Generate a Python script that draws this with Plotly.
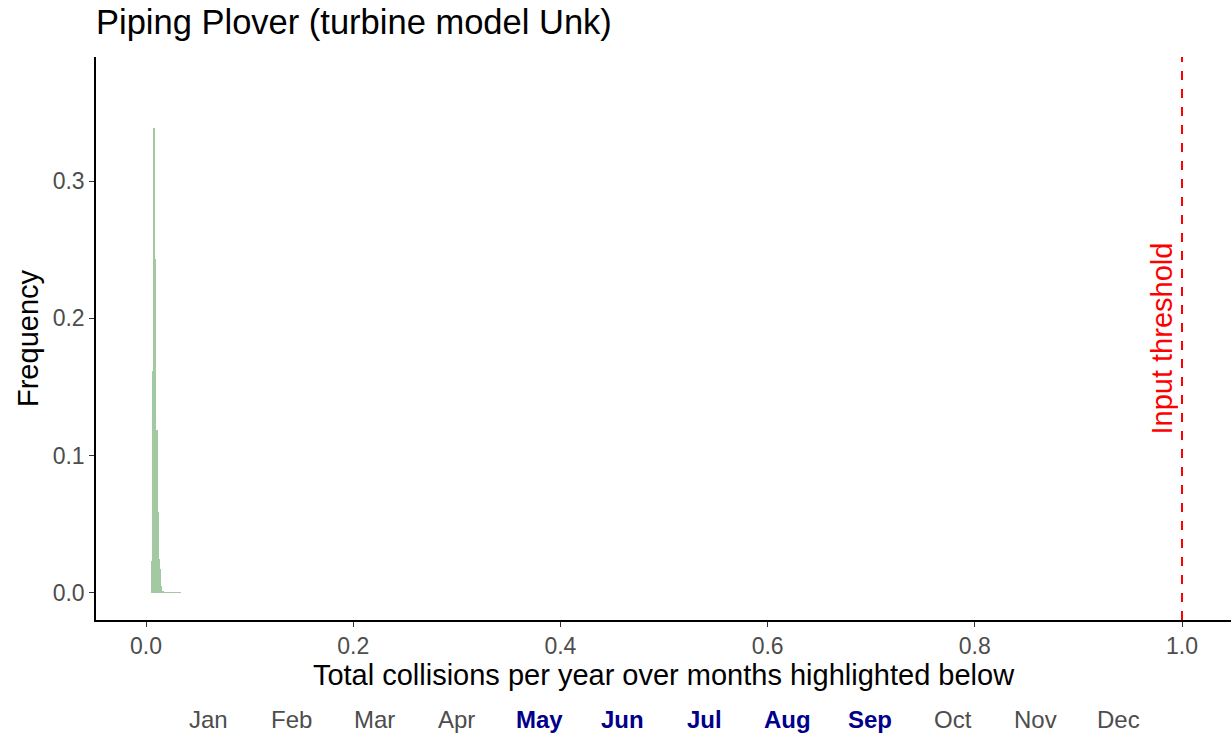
import plotly.graph_objects as go

# Histogram data (relative frequency per bin)
bin_width = 0.00097
bin_centers = [0.0060 + i * 0.00097 for i in range(29)]
frequency = [0.023, 0.162, 0.339, 0.243, 0.0, 0.119, 0.059, 0.025, 0.0175, 0.005,
             0.0008, 0.0017, 0.0006, 0.0004, 0.0003, 0.0003, 0.0002, 0.0002, 0.0003,
             0.0006, 0.0003, 0.0002, 0.0002, 0.0002, 0.0002, 0.0002, 0.0002, 0.0002, 0.0006]
threshold = 1.0

months = ["Jan", "Feb", "Mar", "Apr", "May", "Jun", "Jul", "Aug", "Sep", "Oct", "Nov", "Dec"]
highlighted = [False, False, False, False, True, True, True, True, True, False, False, False]

x_ticks = [0.0, 0.2, 0.4, 0.6, 0.8, 1.0]
y_ticks = [0.0, 0.1, 0.2, 0.3]

FONT = "Liberation Sans"

fig = go.Figure()
fig.add_trace(go.Bar(
    x=bin_centers, y=frequency, width=bin_width,
    marker=dict(color="rgb(163,201,163)", line=dict(width=0)),
    showlegend=False, hoverinfo="x+y"))

fig.add_shape(type="line", x0=threshold, x1=threshold, xref="x", yref="paper", y0=0, y1=1,
              line=dict(color="red", width=2, dash="dash"))
fig.add_annotation(x=threshold, xref="x", xanchor="right", xshift=-3, y=0.5, yref="paper",
                   text="Input threshold", textangle=-90, showarrow=False,
                   font=dict(color="red", size=29, family=FONT))

step = 82.7 / 1135
for i, (m, h) in enumerate(zip(months, highlighted)):
    fig.add_annotation(
        x=0.5 + (i - 5.5) * step, xref="paper", xanchor="center",
        y=-0.176, yref="paper", yanchor="middle", showarrow=False,
        text=f"<b>{m}</b>" if h else m,
        font=dict(size=24, family=FONT, color="#00008B" if h else "#4d4d4d"))

fig.update_layout(
    width=1231, height=738,
    margin=dict(l=96, r=0, t=57, b=118),
    plot_bgcolor="white", paper_bgcolor="white",
    bargap=0,
    font=dict(family=FONT),
    title=dict(text="Piping Plover (turbine model Unk)", x=96 / 1231, xanchor="left",
               xref="container", y=1 - 22 / 738, yref="container", yanchor="middle",
               font=dict(size=34.5, color="black")),
    xaxis=dict(range=[-0.0483, 1.0473], tickvals=x_ticks, ticktext=[f"{v:.1f}" for v in x_ticks],
               showgrid=False, zeroline=False, showline=True, linecolor="black", linewidth=1.5,
               ticks="outside", ticklen=5, tickcolor="#333333", tickwidth=1.2,
               tickfont=dict(size=23, color="#4d4d4d"),
               title=dict(text="Total collisions per year over months highlighted below",
                          font=dict(size=29, color="black"), standoff=4)),
    yaxis=dict(range=[-0.0197, 0.3904], tickvals=y_ticks, ticktext=[f"{v:.1f}" for v in y_ticks],
               showgrid=False, zeroline=False, showline=True, linecolor="black", linewidth=1.5,
               ticks="outside", ticklen=5, tickcolor="#333333", tickwidth=1.2,
               tickfont=dict(size=23, color="#4d4d4d"),
               title=dict(text="Frequency", font=dict(size=29, color="black"), standoff=6)),
)

fig.write_html("out.html", config={"displayModeBar": False},
               post_script="document.body.style.margin='0';")
